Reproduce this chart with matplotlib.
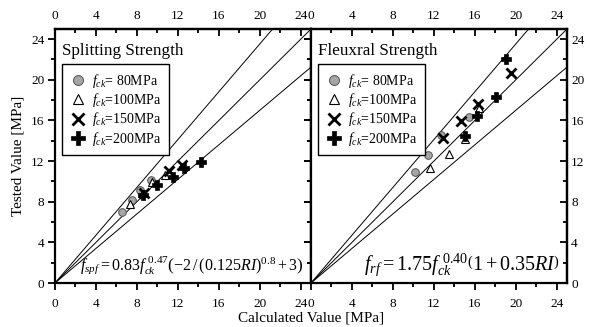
import numpy as np
import matplotlib
matplotlib.use("Agg")
import matplotlib.pyplot as plt
from matplotlib.ticker import MultipleLocator

plt.rcParams['font.family'] = ['Liberation Serif', 'DejaVu Serif']
plt.rcParams['mathtext.fontset'] = 'custom'
plt.rcParams['mathtext.rm'] = 'Liberation Serif'
plt.rcParams['mathtext.it'] = 'Liberation Serif:italic'
plt.rcParams['mathtext.bf'] = 'Liberation Serif:bold'

# data (calculated, tested) in MPa
fck_labels = [' 80MPa', '100MPa', '150MPa', '200MPa']

sp_80_x = [6.5, 7.5, 8.3, 9.4]
sp_80_y = [7.0, 8.2, 9.2, 10.1]
sp_100_x = [7.3, 9.5, 10.7]
sp_100_y = [7.8, 9.9, 10.6]
sp_150_x = [8.7, 11.1, 12.4]
sp_150_y = [8.9, 11.0, 11.6]
sp_200_x = [8.6, 10.0, 11.5, 12.6, 14.3]
sp_200_y = [8.7, 9.6, 10.4, 11.3, 11.9]

fl_80_x = [10.2, 11.4, 12.7, 15.4]
fl_80_y = [10.9, 12.6, 14.6, 16.3]
fl_100_x = [11.6, 13.5, 15.0, 16.4]
fl_100_y = [11.3, 12.7, 14.2, 17.2]
fl_150_x = [12.9, 14.6, 16.3, 19.5]
fl_150_y = [14.3, 15.9, 17.6, 20.7]
fl_200_x = [15.0, 16.2, 18.1, 19.0]
fl_200_y = [14.5, 16.4, 18.3, 22.0]

ref_slopes = [1 / 0.85, 1.0, 0.85]

fig = plt.figure(figsize=(5.9, 3.27), dpi=100)
ax1 = fig.add_axes([55 / 590, 1 - 283 / 327, 256 / 590, 254 / 327])
ax2 = fig.add_axes([311 / 590, 1 - 283 / 327, 256 / 590, 254 / 327])


def set_locs(a):
    a.set_major_locator(MultipleLocator(4))
    a.set_minor_locator(MultipleLocator(2))


def draw_panel(ax, xs, ys, title, formula, fsize, first):
    xx = np.array([0, 30])
    for s in ref_slopes:
        ax.plot(xx, s * xx, color='black', lw=0.7, zorder=1)
    styles = [
        dict(marker='o', ms=5.5, mfc='#a6a6a6', mec='#505050', mew=0.7),
        dict(marker='^', ms=5.5, mfc='white', mec='black', mew=0.8),
        dict(marker='x', ms=6.5, mfc='black', mec='black', mew=2.0),
        dict(marker='P', ms=7.5, mfc='black', mec='black', mew=0.5),
    ]
    for x, y, lab, st in zip(xs, ys, fck_labels, styles):
        ax.plot(x, y, ls='none', label=r'$f_{ck}$=' + lab, zorder=3, **st)
    ax.set_xlim(0, 25)
    ax.set_ylim(0, 25)
    set_locs(ax.xaxis)
    set_locs(ax.yaxis)
    ax.tick_params(which='both', direction='out', top=False, right=False,
                   labelsize=9.5, width=1.3, labelleft=first)
    ax.tick_params(which='major', length=5)
    ax.tick_params(which='minor', length=3)
    ax.tick_params(axis='x', which='both', pad=6)
    ax.tick_params(axis='y', which='both', pad=2.5)
    for sp in ax.spines.values():
        sp.set_linewidth(1.6)

    top = ax.secondary_xaxis('top')
    set_locs(top.xaxis)
    top.tick_params(which='both', direction='in', labelsize=9.5, width=1.3, pad=5)
    top.tick_params(which='major', length=5)
    top.tick_params(which='minor', length=3)
    top.spines['top'].set_linewidth(1.6)
    top.xaxis.offsetText.set_visible(False)

    right = ax.secondary_yaxis('right')
    set_locs(right.yaxis)
    right.tick_params(which='both', direction='in', labelsize=9.5, width=1.3,
                      pad=3, labelright=not first)
    right.tick_params(which='major', length=5)
    right.tick_params(which='minor', length=3)
    right.spines['right'].set_linewidth(1.6)
    right.yaxis.offsetText.set_visible(False)

    ax.text(0.028, 0.915, title, transform=ax.transAxes, fontsize=12.3,
            va='center', ha='left')
    ax.legend(loc='upper left', bbox_to_anchor=(0.027, 0.862), borderaxespad=0,
              fancybox=False, edgecolor='black', framealpha=1, fontsize=10,
              handletextpad=0.4, labelspacing=0.1, borderpad=0.55,
              handlelength=1.2, markerscale=1.3)
    ax.text(0.972, 0.07, formula, transform=ax.transAxes, fontsize=fsize,
            ha='right', va='center')


draw_panel(ax1, [sp_80_x, sp_100_x, sp_150_x, sp_200_x],
           [sp_80_y, sp_100_y, sp_150_y, sp_200_y], 'Splitting Strength',
           r'$f_{spf}=0.83f_{ck}^{\ 0.47}\left(-2\,/\,(0.125RI)^{0.8}+3\right)$',
           11.5, True)
draw_panel(ax2, [fl_80_x, fl_100_x, fl_150_x, fl_200_x],
           [fl_80_y, fl_100_y, fl_150_y, fl_200_y], 'Fleuxral Strength',
           r'$f_{rf}=1.75f_{ck}^{\ 0.40}\left(1+0.35RI\right)$',
           14.5, False)

fig.text(18 / 590, 1 - 156 / 327, 'Tested Value [MPa]', rotation=90,
         ha='center', va='center', fontsize=11)
fig.text(311 / 590, 1 - 318 / 327, 'Calculated Value [MPa]', ha='center',
         va='center', fontsize=11)

fig.savefig('out.png', dpi=100)
